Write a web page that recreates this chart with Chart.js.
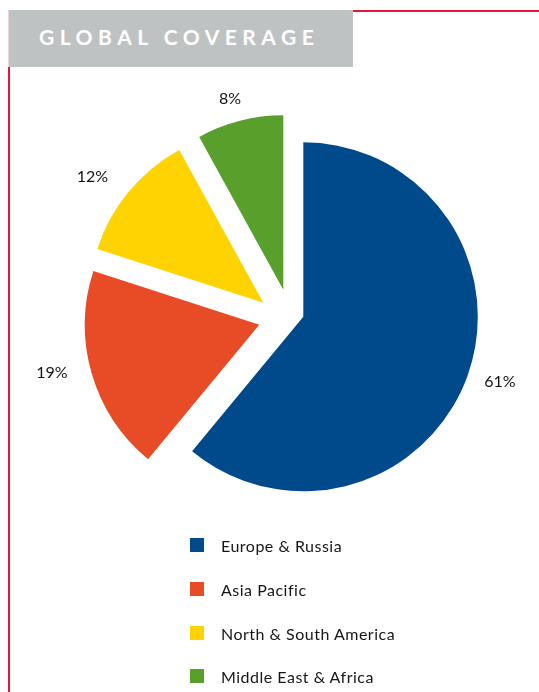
<!DOCTYPE html>
<html>
<head>
<meta charset="utf-8">
<script src="https://cdn.jsdelivr.net/npm/chart.js@4/dist/chart.umd.min.js"></script>
<style>
  html, body { margin:0; padding:0; background:#ffffff; width:539px; height:692px; overflow:hidden; font-family: Lato, "Open Sans", sans-serif; }
  #titleBox { position:absolute; left:8px; top:10px; width:345px; height:57px; background:#bfc2c3; border-left:1px solid #f2d3d8; box-sizing:border-box; }
  #titleText { position:absolute; left:30px; top:16px; color:#ffffff; font-weight:700; font-size:21px; line-height:21px; letter-spacing:5.5px; white-space:nowrap; }
  #redTop { position:absolute; left:353px; top:10px; width:186px; height:2px; background:#e4173b; }
  #redLeft { position:absolute; left:8px; top:67px; width:2px; height:625px; background:#e4173b; }
  #chart { position:absolute; left:0; top:0; }
  #legend { position:absolute; left:190px; top:538px; }
  .lg-item { position:absolute; left:0; white-space:nowrap; height:16px; }
  .lg-box { position:absolute; left:0; top:0; width:14px; height:14px; }
  .lg-text { position:absolute; left:31px; top:0; font-size:16px; line-height:16px; letter-spacing:0.5px; color:#161615; }
</style>
</head>
<body>
<div id="titleBox"><div id="titleText">GLOBAL COVERAGE</div></div>
<div id="redTop"></div>
<div id="redLeft"></div>
<canvas id="chart" width="539" height="692"></canvas>
<div id="legend"></div>
<script>
// ---- data ----
const categories = ["Europe & Russia", "Asia Pacific", "North & South America", "Middle East & Africa"];
const shares = [61, 19, 12, 8];
const sliceColors = ["#004a8b", "#e84c27", "#ffd300", "#599f2b"];

// exploded slice shifts (px), label distances (px) and small angle nudges (deg) — styling only
const explodeOpts = {
  shifts: [[0, 0], [-44, 8], [-40, -14], [-20, -27]],
  distances: [207, 213, 212, 198],
  nudges: [-1.5, 3.1, -3.3, -1.2],
  font: '16px Lato, "Open Sans", sans-serif',
  color: '#111111'
};

const explodePlugin = {
  id: 'explode',
  beforeDatasetDraw(chart, args, opts) {
    const ctx = chart.ctx;
    args.meta.data.forEach((arc, i) => {
      const s = opts.shifts[i] || [0, 0];
      ctx.save();
      ctx.translate(s[0], s[1]);
      arc.draw(ctx, chart.chartArea);
      ctx.restore();
    });
    return false;
  },
  afterDatasetsDraw(chart, args, opts) {
    const meta = chart.getDatasetMeta(0);
    const ctx = chart.ctx;
    const vals = chart.data.datasets[0].data;
    ctx.save();
    ctx.font = opts.font;
    ctx.fillStyle = opts.color;
    ctx.textAlign = 'center';
    ctx.textBaseline = 'middle';
    meta.data.forEach((arc, i) => {
      const p = arc.getProps(['x', 'y', 'startAngle', 'endAngle'], true);
      const mid = (p.startAngle + p.endAngle) / 2 + (opts.nudges[i] || 0) * Math.PI / 180;
      const s = opts.shifts[i] || [0, 0];
      const d = opts.distances[i];
      ctx.fillText(vals[i] + '%', p.x + s[0] + Math.cos(mid) * d, p.y + s[1] + Math.sin(mid) * d);
    });
    ctx.restore();
  }
};

const chart = new Chart(document.getElementById('chart'), {
  type: 'pie',
  data: {
    labels: categories,
    datasets: [{
      data: shares,
      backgroundColor: sliceColors,
      borderWidth: 0
    }]
  },
  options: {
    responsive: false,
    devicePixelRatio: 1,
    animation: false,
    radius: 174.5,
    layout: { padding: { left: 67.6, right: 0, top: 0, bottom: 58.4 } },
    plugins: {
      legend: { display: false },
      tooltip: { enabled: false },
      explode: explodeOpts
    }
  },
  plugins: [explodePlugin]
});

// HTML legend built from the chart's data
const legend = document.getElementById('legend');
categories.forEach((name, i) => {
  const item = document.createElement('div');
  item.className = 'lg-item';
  item.style.top = (i * 43.8) + 'px';
  const box = document.createElement('div');
  box.className = 'lg-box';
  box.style.background = sliceColors[i];
  const txt = document.createElement('div');
  txt.className = 'lg-text';
  txt.textContent = name;
  item.appendChild(box);
  item.appendChild(txt);
  legend.appendChild(item);
});
</script>
</body>
</html>
